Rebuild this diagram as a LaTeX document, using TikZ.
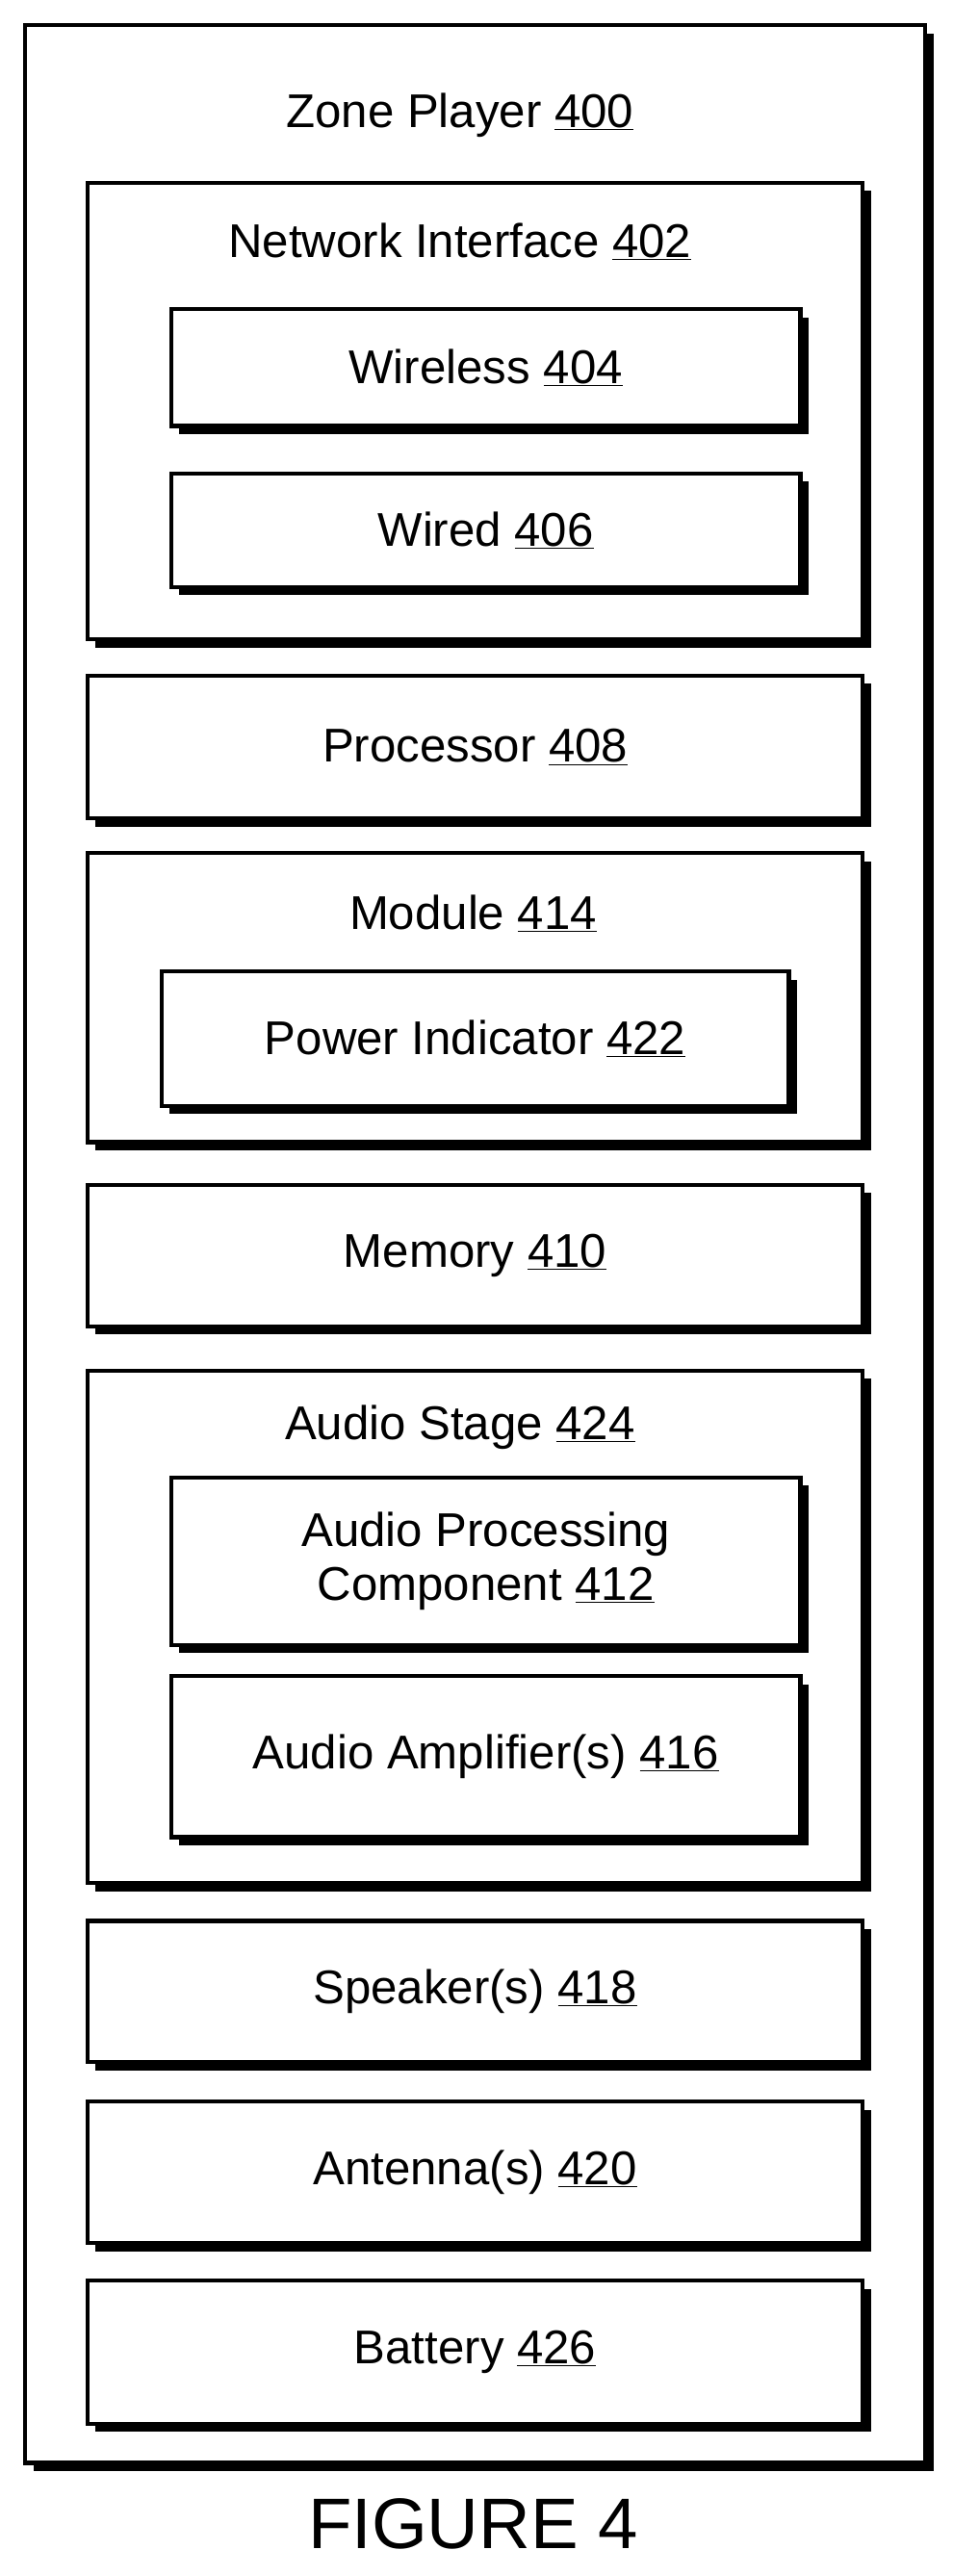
\documentclass[tikz,border=0pt]{standalone}
\usepackage{fontspec}
\setmainfont{Liberation Sans}
\usetikzlibrary{shadows}

\begin{document}
\begin{tikzpicture}[x=0.05cm,y=-0.05cm,
  box/.style={draw,line width=3.5pt,fill=white,anchor=north west,
    inner sep=0pt,
    drop shadow={shadow xshift=0.25cm,shadow yshift=-0.25cm,fill=black,opacity=1}},
  lbl/.style={font=\fontsize{41}{47}\selectfont,align=center}]

  \useasboundingbox (0,0) rectangle (580,1568);

  % outer frame
  \node[box,minimum width=27.4cm,minimum height=74.2cm] (zp) at (14,14) {};
  \node[lbl] (zpl) at (280,70) {Zone Player \underline{400}};

  % network interface
  \node[box,minimum width=23.6cm,minimum height=13.9cm] (ni) at (52,110) {};
  \node[lbl] (nil) at (280,147) {Network Interface \underline{402}};
  \node[box,minimum width=19.15cm,minimum height=3.55cm,lbl] (wl) at (103,187) {Wireless \underline{404}};
  \node[box,minimum width=19.15cm,minimum height=3.45cm,lbl] (wd) at (103,287) {Wired \underline{406}};

  \node[box,minimum width=23.6cm,minimum height=4.35cm,lbl] (proc) at (52,410) {Processor \underline{408}};

  % module
  \node[box,minimum width=23.6cm,minimum height=8.8cm] (mod) at (52,518) {};
  \node[lbl] (modl) at (288,556) {Module \underline{414}};
  \node[box,minimum width=19.1cm,minimum height=4.1cm,lbl] (pi) at (97,590) {Power Indicator \underline{422}};

  \node[box,minimum width=23.6cm,minimum height=4.3cm,lbl] (mem) at (52,720) {Memory \underline{410}};

  % audio stage
  \node[box,minimum width=23.6cm,minimum height=15.6cm] (as) at (52,833) {};
  \node[lbl] (asl) at (280,869) {Audio Stage \underline{424}};
  \node[box,minimum width=19.15cm,minimum height=5.1cm,lbl] (apc) at (103,898) {Audio Processing\\Component \underline{412}};
  \node[box,minimum width=19.15cm,minimum height=4.9cm,lbl] (amp) at (103,1019) {Audio Amplifier(s) \underline{416}};

  \node[box,minimum width=23.6cm,minimum height=4.3cm,lbl] (spk) at (52,1168) {Speaker(s) \underline{418}};
  \node[box,minimum width=23.6cm,minimum height=4.3cm,lbl] (ant) at (52,1278) {Antenna(s) \underline{420}};
  \node[box,minimum width=23.6cm,minimum height=4.35cm,lbl] (bat) at (52,1387) {Battery \underline{426}};

  \node[font=\fontsize{62}{70}\selectfont] (fig) at (288,1536) {FIGURE 4};
\end{tikzpicture}
\end{document}
